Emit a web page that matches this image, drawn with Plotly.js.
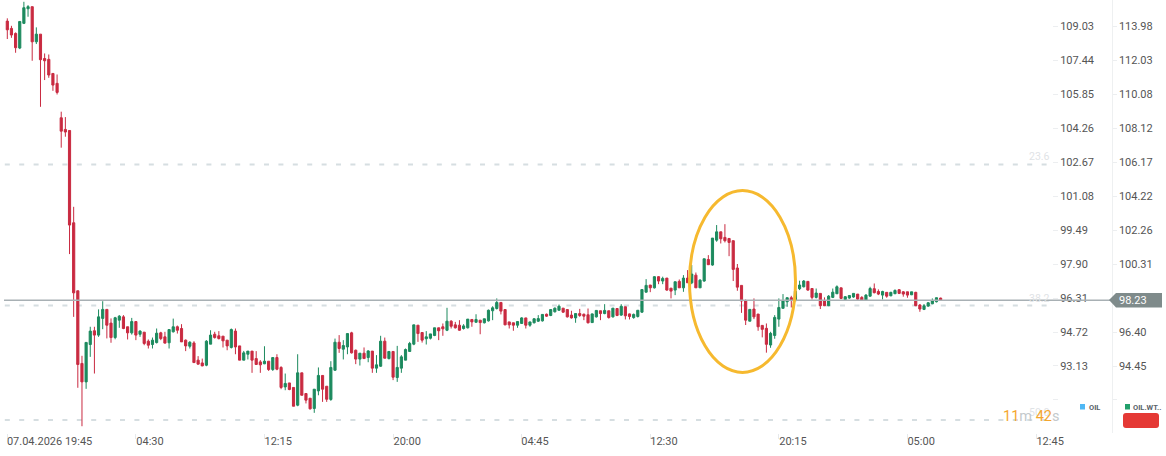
<!DOCTYPE html>
<html>
<head>
<meta charset="utf-8">
<script src="https://cdn.plot.ly/plotly-3.0.1.min.js"></script>
<style>html,body{margin:0;padding:0;background:#fff;overflow:hidden}</style>
</head>
<body>
<div id="chart" style="width:1166px;height:456px"></div>
<script>
// OIL.WT 15 min candles (right hand price scale)
const opens = [
114.29,113.87,113.58,112.74,114.16,115.00,115.12,113.10,113.54,112.14,
112.09,111.28,110.71,108.73,108.06,108.00,102.69,98.78,94.60,93.54,
95.69,96.48,96.23,97.19,97.71,96.92,96.09,97.09,97.28,96.71,
96.36,97.01,96.28,96.40,95.88,95.69,95.80,96.36,96.13,95.79,
96.42,96.71,96.61,95.94,95.59,95.78,94.79,94.63,94.50,95.71,
96.28,96.19,96.17,95.94,95.52,96.46,95.61,94.79,95.13,95.31,
94.88,94.69,94.58,94.73,94.25,94.94,94.37,93.25,93.48,93.22,
92.20,94.06,92.87,92.60,92.01,93.02,93.91,93.29,92.53,94.21,
95.82,95.42,95.55,96.36,95.36,94.85,95.19,94.94,95.31,94.33,
94.44,95.88,94.88,95.29,93.79,94.33,94.79,95.29,95.71,96.80,
96.38,96.02,96.05,96.21,96.65,96.71,96.51,97.03,96.82,96.80,
96.61,96.65,97.13,96.97,97.09,96.94,97.05,97.63,97.76,98.11,
97.70,96.99,96.94,96.80,96.90,97.22,96.80,96.94,97.03,97.05,
97.43,97.36,97.57,97.66,97.78,97.70,97.38,97.22,97.47,97.43,
97.40,96.95,97.28,97.63,97.47,97.63,97.28,97.76,97.38,97.86,
97.45,97.24,97.30,97.55,98.70,99.11,98.95,99.59,99.34,99.51,
98.93,98.82,99.32,98.95,99.51,99.24,99.68,98.95,99.34,100.58,
100.26,101.69,102.17,101.85,101.79,101.66,100.09,99.09,98.21,97.03,
97.73,97.44,96.79,96.62,95.66,96.21,97.15,97.77,98.15,98.38,
98.21,98.90,99.01,99.32,98.91,98.40,98.63,98.19,97.92,98.40,
98.61,98.95,98.28,98.36,98.42,98.59,98.40,98.24,98.47,98.90,
98.74,98.53,98.69,98.49,98.61,98.84,98.72,98.72,98.55,98.69,
97.96,97.71,97.90,98.03,98.15,98.36];
const highs = [
114.45,114.02,113.64,114.27,115.40,115.21,115.12,113.93,113.54,112.43,
112.37,111.28,111.22,109.08,108.77,108.00,103.61,98.78,95.04,95.81,
96.71,96.71,97.71,98.18,97.71,97.19,97.28,97.38,97.38,96.71,
97.22,97.01,96.51,96.40,95.98,96.09,96.61,96.42,96.42,96.55,
97.18,96.78,96.86,95.98,95.88,95.88,95.02,94.88,95.94,96.51,
96.42,96.46,96.17,95.94,96.61,96.61,95.61,95.32,95.31,95.31,
95.31,94.79,95.59,94.73,94.94,95.13,94.44,94.02,93.48,93.22,
95.13,94.06,92.87,92.60,93.12,94.37,93.91,93.29,94.73,96.03,
96.23,95.94,96.32,96.42,95.40,95.19,95.52,95.36,95.31,95.08,
96.19,96.09,95.29,95.29,95.61,95.08,95.46,95.84,96.82,96.80,
96.38,96.46,96.30,96.65,96.65,96.90,97.80,97.09,96.99,97.09,
96.86,97.15,97.13,97.43,97.09,97.17,97.70,97.89,98.34,98.11,
97.70,96.99,96.94,97.01,97.26,97.22,96.99,97.20,97.38,97.43,
97.47,97.70,97.82,97.99,97.78,97.70,97.63,97.47,97.74,97.47,
97.76,97.47,97.66,97.63,98.01,97.63,97.78,97.76,98.01,97.86,
97.47,97.47,97.66,98.85,99.45,99.11,99.62,99.62,99.59,99.51,
98.93,99.30,99.43,99.68,99.97,100.26,99.83,99.45,100.62,100.83,
101.81,102.56,102.17,102.61,101.79,101.66,100.32,99.09,98.28,97.71,
98.34,97.44,96.79,96.90,96.42,97.38,98.34,98.59,98.40,98.49,
98.76,99.36,99.40,99.32,98.91,98.91,98.63,98.40,98.53,98.91,
99.09,98.95,98.47,98.51,98.63,98.59,98.47,98.59,99.01,99.20,
98.86,98.78,98.69,98.72,98.86,98.88,98.76,98.72,98.72,98.72,
98.02,98.02,98.13,98.34,98.38,98.38];
const lows = [
113.26,113.33,112.47,112.68,114.12,114.54,112.01,112.97,109.36,110.90,
111.03,110.28,110.07,107.01,107.64,100.89,97.28,93.20,90.99,93.14,
94.98,94.02,96.13,96.57,96.04,95.79,95.99,96.65,96.57,95.98,
96.26,95.94,96.13,95.65,95.46,95.46,95.75,95.94,95.75,95.46,
96.38,96.32,95.84,95.31,95.46,94.63,94.54,94.44,94.44,95.71,
96.03,95.98,95.52,95.36,95.46,95.13,94.79,94.79,94.83,94.06,
94.54,94.06,94.56,94.17,94.17,94.21,93.12,93.06,93.06,92.14,
92.14,92.77,92.30,91.95,91.76,92.77,92.39,92.39,92.45,94.17,
95.21,94.83,95.13,95.17,94.56,94.48,94.88,94.67,94.06,94.06,
94.40,94.90,94.83,93.64,93.54,94.06,94.79,95.27,95.65,95.84,
95.80,95.69,95.98,96.17,95.94,96.19,96.46,96.61,96.61,96.48,
96.55,96.61,96.71,96.95,96.28,96.90,97.01,97.09,97.70,97.42,
96.80,96.61,96.48,96.65,96.90,96.61,96.71,96.90,96.99,97.01,
97.28,97.32,97.53,97.63,97.51,97.24,97.18,96.94,97.28,97.09,
96.90,96.94,97.24,97.09,97.43,97.18,97.24,97.32,97.34,97.13,
97.13,97.17,97.24,97.51,98.68,98.70,98.91,99.16,99.16,98.78,
98.34,98.53,98.95,98.72,99.24,99.16,98.95,98.95,99.30,100.26,
100.22,101.60,101.50,101.56,100.77,99.34,98.78,97.51,96.81,97.03,
97.15,96.48,96.10,95.22,95.50,96.02,96.71,97.77,97.86,97.82,
98.21,98.82,98.97,98.78,98.28,98.34,97.73,97.90,97.90,98.36,
98.59,98.30,98.21,98.32,98.38,98.21,98.21,98.21,98.44,98.63,
98.53,98.28,98.38,98.47,98.59,98.59,98.44,98.38,98.53,97.90,
97.57,97.67,97.86,98.01,98.11,98.21];
const closes = [
113.79,113.49,112.76,114.27,115.06,115.12,113.10,113.54,112.07,112.01,
111.19,110.61,110.19,107.96,107.91,102.56,98.66,94.54,93.54,95.81,
96.46,96.23,97.28,97.71,96.80,96.09,97.23,97.32,96.61,96.36,
97.01,96.23,96.46,95.75,95.65,95.94,96.34,96.03,95.77,96.55,
96.71,96.51,95.84,95.61,95.82,94.65,94.56,94.46,95.88,96.23,
96.09,96.03,95.90,95.61,96.55,95.55,94.79,95.21,95.31,94.79,
94.54,94.52,94.73,94.25,94.94,94.27,93.22,93.45,93.10,92.14,
94.06,92.77,92.49,91.99,93.12,93.91,93.12,92.54,94.37,95.82,
95.46,95.63,96.32,95.21,94.85,95.19,94.88,95.32,94.33,94.52,
95.88,94.90,95.29,93.81,94.37,94.98,95.40,95.75,96.82,96.32,
95.94,96.13,96.30,96.65,96.48,96.59,97.03,96.74,96.65,96.51,
96.76,97.15,96.99,97.13,96.95,97.17,97.66,97.80,98.11,97.61,
96.82,96.82,96.80,97.01,97.22,96.80,96.99,97.17,97.18,97.42,
97.32,97.70,97.78,97.89,97.55,97.28,97.22,97.47,97.36,97.32,
96.94,97.45,97.65,97.47,97.65,97.24,97.78,97.36,97.89,97.34,
97.30,97.42,97.66,98.85,99.09,98.95,99.59,99.34,99.49,98.82,
98.76,99.30,98.95,99.51,99.24,99.74,98.95,99.39,100.62,100.28,
101.81,102.17,101.77,101.66,101.56,100.01,98.99,98.19,97.09,97.71,
97.28,96.71,96.56,95.70,96.33,97.25,97.82,98.19,98.38,98.22,
98.76,99.11,99.34,98.82,98.40,98.65,97.92,97.92,98.47,98.70,
99.01,98.34,98.44,98.51,98.63,98.30,98.24,98.53,98.91,98.67,
98.59,98.74,98.47,98.69,98.80,98.63,98.59,98.53,98.72,97.92,
97.73,97.92,98.09,98.21,98.38,98.22];

// price scales
const oilTicks = [109.03,107.44,105.85,104.26,102.67,101.08,99.49,97.90,96.31,94.72,93.13,91.54];
const oilLabels = ['109.03','107.44','105.85','104.26','102.67','101.08','99.49','97.90','96.31','94.72','93.13',''];
const wtiTicks = [113.98,112.03,110.08,108.12,106.17,104.22,102.26,100.31,98.35,96.40,94.45,92.50];
const wtiLabels = ['113.98','112.03','110.08','108.12','106.17','104.22','102.26','100.31','','96.40','94.45',''];

// time axis: tick marks sit on the candle, the label starts at the tick
const timeTicks = [0,31,62,93,124,155,186,217,248];
const timeLabelPos = [10.2,34.4,65.3,96.4,127.2,158.3,189.4,220.3,251.4];
const timeLabels = ['07.04.2026 19:45','04:30','12:15','20:00','04:45','12:30','20:15','05:00','12:45'];

// fibonacci levels on the left price scale
const fibNames = ['23.6','38.2','50.0'];
const fibLevels = [102.57,95.96,90.60];
const lastPrice = 98.23;

const W = 1166, H = 433;
const px = x => x / W;
const py = y => 1 - y / H;

const candleIdx = opens.map((_, i) => i);

const traces = fibLevels.map(v => ({
  type: 'scatter', mode: 'lines', xaxis: 'x', yaxis: 'y',
  x: [-0.6, 251.4], y: [v, v],
  line: {color: '#d6dee1', width: 2, dash: '5px,9.4px'},
  hoverinfo: 'skip', showlegend: false
}));

traces.push({
  type: 'candlestick', xaxis: 'x', yaxis: 'y2',
  x: candleIdx, open: opens, high: highs, low: lows, close: closes,
  whiskerwidth: 0,
  increasing: {line: {color: '#1c8a5e', width: 1}, fillcolor: '#1c8a5e'},
  decreasing: {line: {color: '#c92a40', width: 1}, fillcolor: '#c92a40'},
  hoverinfo: 'skip', showlegend: false
});

function roundedBox(x0, y0, x1, y1, r) {
  const X = px, Y = py;
  return `M${X(x0 + r)},${Y(y0)} L${X(x1 - r)},${Y(y0)} Q${X(x1)},${Y(y0)} ${X(x1)},${Y(y0 + r)} ` +
    `L${X(x1)},${Y(y1 - r)} Q${X(x1)},${Y(y1)} ${X(x1 - r)},${Y(y1)} L${X(x0 + r)},${Y(y1)} ` +
    `Q${X(x0)},${Y(y1)} ${X(x0)},${Y(y1 - r)} L${X(x0)},${Y(y0 + r)} Q${X(x0)},${Y(y0)} ${X(x0 + r)},${Y(y0)} Z`;
}

const shapes = [
  // last price line and tag
  {type: 'line', xref: 'paper', yref: 'y2', x0: px(4), x1: px(1110), y0: lastPrice, y1: lastPrice,
   line: {color: '#a8b0b4', width: 1.5}},
  {type: 'path', xref: 'paper', yref: 'paper', fillcolor: '#7f8b8b', line: {width: 0},
   path: `M${px(1109)},${py(300)} L${px(1116)},${py(293)} L${px(1162)},${py(293)} L${px(1162)},${py(307.5)} L${px(1116)},${py(307.5)} Z`},
  // hand drawn circle
  {type: 'circle', xref: 'paper', yref: 'paper', x0: px(689.5), x1: px(795.5), y0: py(372.5), y1: py(190.5),
   line: {color: '#f6b92f', width: 3}},
  // legend
  {type: 'rect', xref: 'paper', yref: 'paper', x0: px(1080), x1: px(1085), y0: py(409.5), y1: py(404),
   fillcolor: '#4fb8f5', line: {width: 0}},
  {type: 'rect', xref: 'paper', yref: 'paper', x0: px(1125), x1: px(1130), y0: py(409.5), y1: py(404),
   fillcolor: '#22a06b', line: {width: 0}},
  {type: 'path', xref: 'paper', yref: 'paper', fillcolor: '#e53935', line: {width: 0},
   path: roundedBox(1123, 413, 1159, 428, 3)}
];

function note(text, x, y, size, color, anchor, extra) {
  return Object.assign({
    text, xref: 'paper', yref: 'paper', x: px(x), y: py(y), showarrow: false,
    xanchor: anchor, yanchor: 'middle', font: {family: 'Roboto', size, color}
  }, extra || {});
}

const annotations = [
  note(fibNames[0], 1052, 156.5, 10.5, '#dfe3e6', 'right'),
  note(fibNames[1], 1052, 298, 10.5, '#dfe3e6', 'right'),
  note(fibNames[2], 1052, 412, 10.5, '#dfe3e6', 'right'),
  note('<span style="color:#f5a62e">11</span>m <span style="color:#f5a62e">42</span>s', 1001, 416, 14.5, '#c4c9cc', 'left'),
  note('98.23', 1117, 300.5, 11, '#ffffff', 'left'),
  note('<b>OIL</b>', 1086.5, 407, 7.5, '#5a6268', 'left'),
  note('<b>OIL.WT..</b>', 1131, 407, 7.5, '#5a6268', 'left')
];

const layout = {
  width: 1166, height: 456, autosize: false,
  margin: {l: 0, r: 0, t: 0, b: 23, pad: 0},
  paper_bgcolor: '#fff', plot_bgcolor: '#fff',
  showlegend: false,
  boxgap: 0.48, boxgroupgap: 0,
  font: {family: 'Roboto', size: 11, color: '#555'},
  xaxis: {
    domain: [0, 1052 / 1166], range: [-1.76, 251.85],
    rangeslider: {visible: false},
    showgrid: false, zeroline: false, showline: false,
    tickmode: 'array', tickvals: timeLabelPos, ticktext: timeLabels, ticks: '',
    minor: {tickmode: 'array', tickvals: timeTicks, ticks: 'outside', ticklen: 5, tickcolor: '#e6e9eb', showgrid: false},
    tickfont: {family: 'Roboto', size: 11, color: '#555'}
  },
  yaxis: {
    side: 'right', anchor: 'x', range: [89.99, 110.27],
    showgrid: false, zeroline: false, showline: false,
    tickmode: 'array', tickvals: oilTicks, ticktext: oilLabels,
    ticks: 'outside', ticklen: 5, tickcolor: '#eceef0',
    tickfont: {family: 'Roboto', size: 11, color: '#555'}
  },
  yaxis2: {
    side: 'right', overlaying: 'y', anchor: 'free', position: 1111.7 / 1166, range: [90.60, 115.504],
    showgrid: false, zeroline: false, showline: true, linecolor: '#eef0f1', linewidth: 1,
    tickmode: 'array', tickvals: wtiTicks, ticktext: wtiLabels,
    ticks: 'outside', ticklen: 4, tickcolor: '#eceef0',
    tickfont: {family: 'Roboto', size: 11, color: '#555'}
  },
  shapes, annotations
};

Plotly.newPlot('chart', traces, layout, {staticPlot: true, displayModeBar: false});
</script>
</body>
</html>
